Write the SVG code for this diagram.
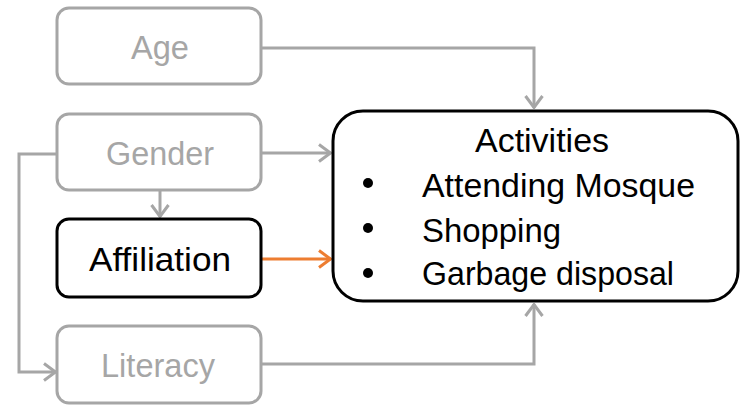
<svg xmlns="http://www.w3.org/2000/svg" width="742" height="407" viewBox="0 0 742 407">
<style>
.g{fill:#fff;stroke:#A6A6A6;stroke-width:3}
.b{fill:#fff;stroke:#000;stroke-width:3}
.t{font-family:"Liberation Sans",Arial,sans-serif;font-size:34px;text-anchor:middle}
.gt{fill:#A6A6A6}
.bt{fill:#000}
.c{fill:none;stroke:#A6A6A6;stroke-width:3}
.o{fill:none;stroke:#ED7D31;stroke-width:3}
.l{font-family:"Liberation Sans",Arial,sans-serif;font-size:34px;fill:#000}
</style>
<defs>
<marker id="ag" viewBox="0 0 14 20" refX="13" refY="10" markerWidth="14" markerHeight="20" markerUnits="userSpaceOnUse" orient="auto"><path d="M1,1.5 L12.5,10 L1,18.5" fill="none" stroke="#A6A6A6" stroke-width="3"/></marker>
<marker id="ao" viewBox="0 0 14 20" refX="13" refY="10" markerWidth="14" markerHeight="20" markerUnits="userSpaceOnUse" orient="auto"><path d="M1,1.5 L12.5,10 L1,18.5" fill="none" stroke="#ED7D31" stroke-width="3"/></marker>
</defs>
<g id="connectors">
<path class="c" d="M261,48 H534 V108" marker-end="url(#ag)"/>
<path class="c" d="M261,153 H331" marker-end="url(#ag)"/>
<path class="c" d="M160,190 V217" marker-end="url(#ag)"/>
<path class="c" d="M57,154 H19 V372 H56" marker-end="url(#ag)"/>
<path class="c" d="M261,364 H534 V304" marker-end="url(#ag)"/>
<path class="o" d="M261,259 H331" marker-end="url(#ao)"/>
</g>
<g id="age"><rect class="g" x="57" y="8" width="204" height="76" rx="12"/><text class="t gt" x="160" y="59" textLength="58" lengthAdjust="spacingAndGlyphs">Age</text></g>
<g id="gender"><rect class="g" x="57" y="114" width="204" height="76" rx="12"/><text class="t gt" x="160" y="165" textLength="108" lengthAdjust="spacingAndGlyphs">Gender</text></g>
<g id="affiliation"><rect class="b" x="57" y="219" width="204" height="78" rx="12"/><text class="t bt" x="160" y="271" textLength="142" lengthAdjust="spacingAndGlyphs">Affiliation</text></g>
<g id="literacy"><rect class="g" x="57" y="326" width="204" height="77" rx="12"/><text class="t gt" x="158" y="377" textLength="114" lengthAdjust="spacingAndGlyphs">Literacy</text></g>
<g id="activities">
<rect class="b" x="333" y="111" width="405" height="190" rx="30"/>
<text class="t bt" x="542" y="152" textLength="134" lengthAdjust="spacingAndGlyphs">Activities</text>
<circle cx="368" cy="183" r="5"/>
<circle cx="368" cy="228" r="5"/>
<circle cx="368" cy="273" r="5"/>
<text class="l" x="422" y="197" textLength="273" lengthAdjust="spacingAndGlyphs">Attending Mosque</text>
<text class="l" x="422" y="242" textLength="139" lengthAdjust="spacingAndGlyphs">Shopping</text>
<text class="l" x="422" y="285" textLength="252" lengthAdjust="spacingAndGlyphs">Garbage disposal</text>
</g>
</svg>
